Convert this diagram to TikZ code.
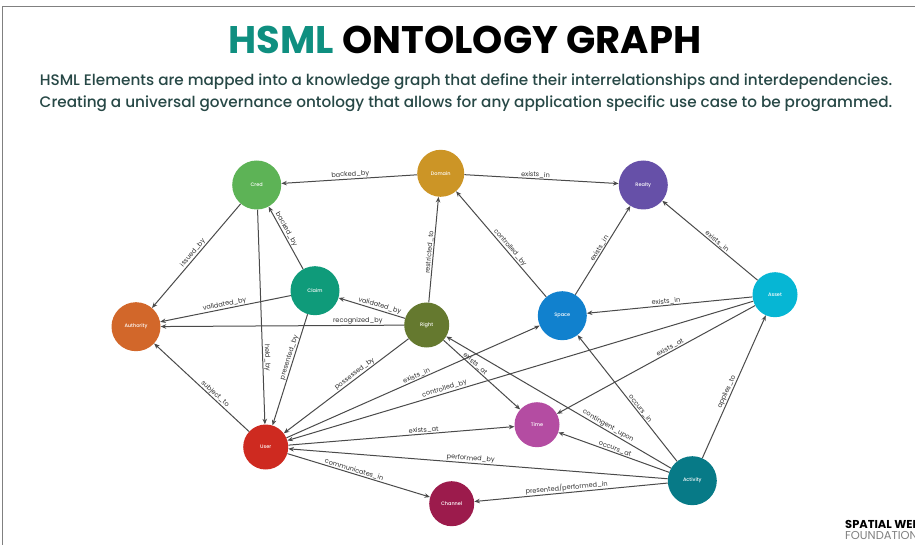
\documentclass[tikz,border=0pt]{standalone}
\usepackage{fontspec}
\setmainfont{Poppins}
\newfontfamily\subfont{Poppins Medium}
\usetikzlibrary{arrows.meta}
\definecolor{cCred}{HTML}{5DB356}
\definecolor{cDomain}{HTML}{CC9526}
\definecolor{cAuthority}{HTML}{D2672A}
\definecolor{cClaim}{HTML}{0F9B7A}
\definecolor{cRight}{HTML}{65792F}
\definecolor{cRealty}{HTML}{6650A8}
\definecolor{cSpace}{HTML}{1181CE}
\definecolor{cAsset}{HTML}{06B6D4}
\definecolor{cUser}{HTML}{CE2A20}
\definecolor{cTime}{HTML}{B44CA2}
\definecolor{cChannel}{HTML}{9C1B4C}
\definecolor{cActivity}{HTML}{077A87}
\definecolor{cTeal}{HTML}{0F8F80}
\definecolor{cSub}{HTML}{274846}
\definecolor{cEdge}{HTML}{4A4A4A}
\tikzset{
  x=1bp,y=-1bp,
  ent/.style={circle,inner sep=0pt,minimum size=#1,text=white,font=\fontsize{5}{6}\subfont},
  rel/.style={draw=cEdge,line width=1bp,-{Stealth[length=5.5bp,width=4.5bp]}},
  lab/.style={sloped,above,inner sep=0.6bp,text=black!80,font=\fontsize{6.6}{8}\selectfont},
  headline/.style={font=\fontsize{38.6}{42}\selectfont\bfseries,inner sep=0pt},
  subline/.style={text=cSub,font=\fontsize{15.3}{18}\subfont,inner sep=0pt},
}
\begin{document}
\begin{tikzpicture}
\useasboundingbox (0,0) rectangle (915,545);
\clip (0,0) rectangle (915,545);
\fill[white] (0,0) rectangle (915,545);
\draw[gray,line width=1bp] (2,545) -- (2,6.5) -- (915,6.5);
\node[headline] (title) at (465,40) {\textcolor{cTeal}{HSML} ONTOLOGY GRAPH};
\node[subline] (sub1) at (466,82) {HSML Elements are mapped into a knowledge graph that define their interrelationships and interdependencies.};
\node[subline] (sub2) at (466,104) {Creating a universal governance ontology that allows for any application specific use case to be programmed.};
\node[ent=49bp,fill=cCred] (cred) at (256.7,185) {Cred};
\node[ent=47bp,fill=cDomain] (domain) at (440.7,173.3) {Domain};
\node[ent=49bp,fill=cAuthority] (authority) at (136,326.7) {Authority};
\node[ent=49bp,fill=cClaim] (claim) at (315,290.7) {Claim};
\node[ent=45bp,fill=cRight] (right) at (426.7,325) {Right};
\node[ent=49bp,fill=cRealty] (realty) at (643.3,185) {Realty};
\node[ent=49bp,fill=cSpace] (space) at (562.3,315.7) {Space};
\node[ent=45bp,fill=cAsset] (asset) at (775,294.7) {Asset};
\node[ent=45bp,fill=cUser] (user) at (265.7,447) {User};
\node[ent=45bp,fill=cTime] (time) at (537,424.7) {Time};
\node[ent=45bp,fill=cChannel] (channel) at (451.7,503.7) {Channel};
\node[ent=49bp,fill=cActivity] (activity) at (692.3,480.7) {Activity};
\draw[rel] (domain) -- node[lab,pos=.49]{backed\_by} (cred);
\draw[rel] (domain) -- node[lab,pos=.46]{exists\_in} (realty);
\draw[rel] (cred) -- node[lab,pos=.5]{issued\_by} (authority);
\draw[rel] (claim) -- node[lab,pos=.6]{backed\_by} (cred);
\draw[rel] (claim) -- node[lab,pos=.5]{validated\_by} (authority);
\draw[rel] (right) -- node[lab,pos=.4]{validated\_by} (claim);
\draw[rel] (right) -- node[lab,pos=.19]{recognized\_by} (authority);
\draw[rel] (right) -- node[lab,pos=.47]{restricted\_to} (domain);
\draw[rel] (space) -- node[lab,pos=.44]{controlled\_by} (domain);
\draw[rel] (space) -- node[lab,pos=.5]{exists\_in} (realty);
\draw[rel] (asset) -- node[lab,pos=.45]{exists\_in} (realty);
\draw[rel] (asset) -- node[lab,pos=.52]{exists\_in} (space);
\draw[rel] (asset) -- node[lab,pos=.42]{exists\_at} (time);
\draw[rel] (cred) -- node[lab,pos=.69]{held\_by} (user);
\draw[rel] (claim) -- node[lab,pos=.4]{presented\_by} (user);
\draw[rel] (right) -- node[lab,pos=.41]{possessed\_by} (user);
\draw[rel] (user) -- node[lab,pos=.52]{exists\_in} (space);
\draw[rel] (asset) -- node[lab,pos=.66]{controlled\_by} (user);
\draw[rel] (user) -- node[lab,pos=.6]{exists\_at} (time);
\draw[rel] (right) -- node[lab,pos=.38]{exists\_at} (time);
\draw[rel] (activity) -- node[lab,pos=.29]{contingent\_upon} (right);
\draw[rel] (activity) -- node[lab,pos=.4]{occurs\_in} (space);
\draw[rel] (activity) -- node[lab,pos=.5]{occurs\_at} (time);
\draw[rel] (activity) -- node[lab,pos=.52]{performed\_by} (user);
\draw[rel] (activity) -- node[lab,pos=.52]{presented/performed\_in} (channel);
\draw[rel] (activity) -- node[lab,pos=.45]{applies\_to} (asset);
\draw[rel] (user) -- node[lab,pos=.46]{communicates\_in} (channel);
\draw[rel] (user) -- node[lab,pos=.39]{subject\_to} (authority);
\node[anchor=west,inner sep=0pt,font=\fontsize{11.5}{12}\selectfont\bfseries] (logo1) at (845,524) {SPATIAL WEB};
\node[anchor=west,inner sep=0pt,text=gray,font=\fontsize{11.5}{12}\selectfont] (logo2) at (845,535) {FOUNDATION};
\end{tikzpicture}
\end{document}
